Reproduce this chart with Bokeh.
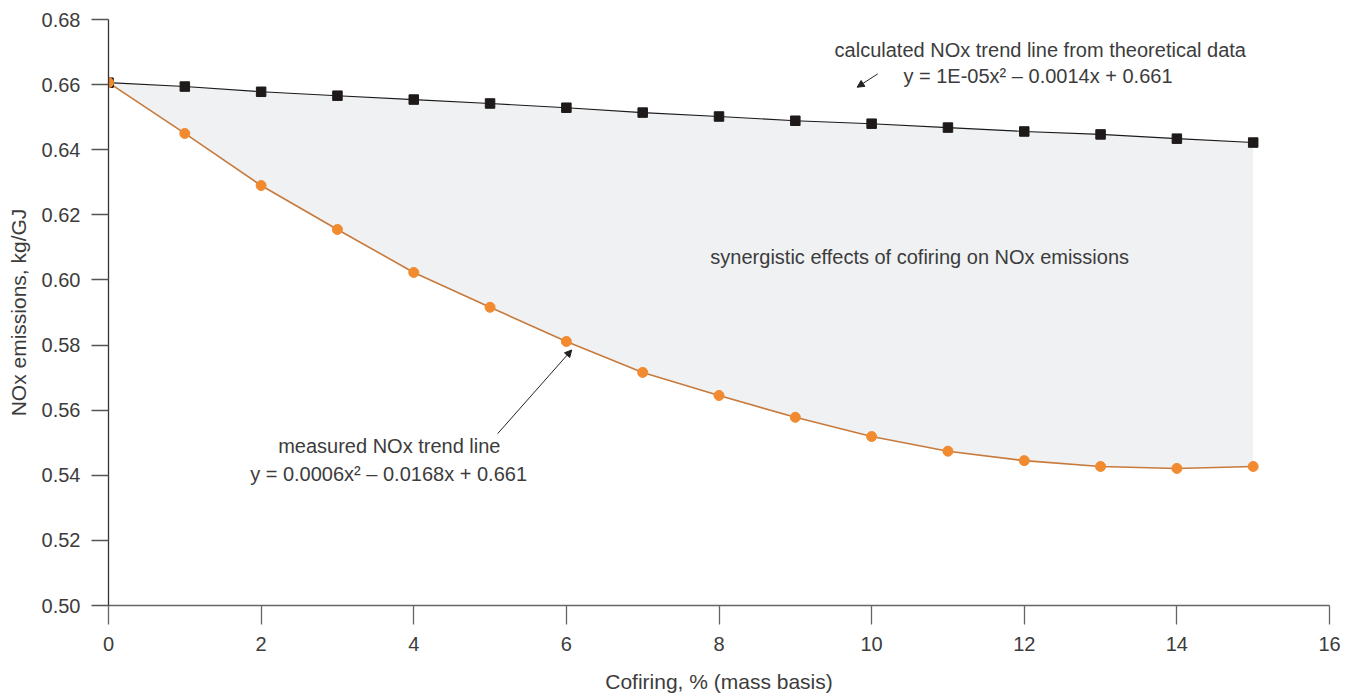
from bokeh.plotting import figure
from bokeh.models import Range1d, FixedTicker, PrintfTickFormatter, Arrow, NormalHead, ColumnDataSource
from bokeh.core.properties import value
from bokeh.embed import file_html
from bokeh.resources import INLINE

# ---- data ----
cofiring = [0, 1, 2, 3, 4, 5, 6, 7, 8, 9, 10, 11, 12, 13, 14, 15]
calculated = [0.6606, 0.6594, 0.6578, 0.6566, 0.6554, 0.6542, 0.6529, 0.6514,
              0.6502, 0.6489, 0.6480, 0.6468, 0.6456, 0.6447, 0.6434, 0.6422]
measured = [0.6606, 0.6450, 0.6290, 0.6155, 0.6023, 0.5916, 0.5811, 0.5716,
            0.5645, 0.5578, 0.5519, 0.5474, 0.5445, 0.5427, 0.5421, 0.5427]
x_ticks = [0, 2, 4, 6, 8, 10, 12, 14, 16]
y_ticks = [0.50, 0.52, 0.54, 0.56, 0.58, 0.60, 0.62, 0.64, 0.66, 0.68]

# annotations
calc_label = ["calculated NOx trend line from theoretical data", "y = 1E-05x\u00b2 \u2013 0.0014x + 0.661"]
calc_label_pos = [(12.21, 0.6707), (12.18, 0.6627)]
meas_label = ["measured NOx trend line", "y = 0.0006x\u00b2 \u2013 0.0168x + 0.661"]
meas_label_pos = [(3.68, 0.5489), (3.67, 0.5404)]
syn_label = "synergistic effects of cofiring on NOx emissions"
syn_label_pos = (10.63, 0.6072)
calc_arrow = (10.08, 0.6633, 9.81, 0.6592)
meas_arrow = (5.10, 0.5528, 6.07, 0.5785)

FONT = "Liberation Sans"
TXT = "#3c3c3c"

src = ColumnDataSource(dict(x=cofiring, calc=calculated, meas=measured))

p = figure(width=1354, height=696, output_backend="svg", toolbar_location=None,
           x_range=Range1d(0, 16), y_range=Range1d(0.50, 0.68),
           min_border_left=108, min_border_right=25, min_border_top=19, min_border_bottom=91)
p.outline_line_color = None
p.xgrid.grid_line_color = None
p.ygrid.grid_line_color = None
p.background_fill_color = "white"
p.border_fill_color = "white"

p.varea(x="x", y1="meas", y2="calc", source=src, fill_color="#f0f1f3")
p.line(x="x", y="calc", source=src, line_color="#1a1a1a", line_width=1.1)
p.line(x="x", y="meas", source=src, line_color="#c77a3c", line_width=1.6)
p.scatter(x="x", y="calc", source=src, marker="square", size=9.5, fill_color="#1f1a1a", line_color="#1f1a1a")
p.scatter(x="x", y="meas", source=src, marker="circle", size=10, fill_color="#f28a30", line_color="#f28a30")

# axes
for ax in (p.xaxis[0], p.yaxis[0]):
    ax.minor_tick_line_color = None
    ax.major_tick_in = 0
    ax.major_label_text_font = FONT
    ax.major_label_text_font_size = "20px"
    ax.major_label_text_color = TXT
    ax.axis_label_text_font = FONT
    ax.axis_label_text_font_size = "21px"
    ax.axis_label_text_font_style = "normal"
    ax.axis_label_text_color = TXT
    ax.axis_line_width = 1.3
    ax.major_tick_line_width = 1.3

p.xaxis.ticker = FixedTicker(ticks=x_ticks)
p.yaxis.ticker = FixedTicker(ticks=y_ticks)
p.yaxis.formatter = PrintfTickFormatter(format="%.2f")
p.xaxis.major_tick_out = 19
p.yaxis.major_tick_out = 17
p.xaxis.major_label_standoff = 12
p.yaxis.major_label_standoff = 11
p.xaxis.axis_label = "Cofiring, % (mass basis)"
p.yaxis.axis_label = "NOx emissions, kg/GJ"
p.xaxis.axis_label_standoff = 16
p.yaxis.axis_label_standoff = 9
p.xaxis.axis_line_color = "#666666"
p.xaxis.major_tick_line_color = "#666666"
p.yaxis.axis_line_color = "#333333"
p.yaxis.major_tick_line_color = "#555555"

# texts
for lbl, (tx, ty) in zip(calc_label, calc_label_pos):
    p.text(x=[tx], y=[ty], text=[lbl], text_font=value(FONT), text_font_size="20px",
           text_color=TXT, text_align="center", text_baseline="middle")
for lbl, (tx, ty) in zip(meas_label, meas_label_pos):
    p.text(x=[tx], y=[ty], text=[lbl], text_font=value(FONT), text_font_size="20px",
           text_color=TXT, text_align="center", text_baseline="middle")
p.text(x=[syn_label_pos[0]], y=[syn_label_pos[1]], text=[syn_label], text_font=value(FONT),
       text_font_size="20px", text_color=TXT, text_align="center", text_baseline="middle")

for (x0, y0, x1, y1) in (calc_arrow, meas_arrow):
    p.add_layout(Arrow(x_start=x0, y_start=y0, x_end=x1, y_end=y1, line_color="#222222", line_width=1,
                       end=NormalHead(size=7, fill_color="#222222", line_color="#222222")))

open("out.html", "w").write(file_html(p, INLINE))
